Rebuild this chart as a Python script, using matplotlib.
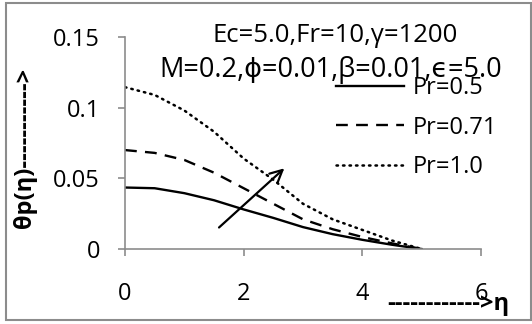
import numpy as np
import matplotlib
matplotlib.use('Agg')
from matplotlib import pyplot as plt
from matplotlib.patches import Rectangle

plt.rcParams['font.family'] = ['Open Sans', 'DejaVu Sans']

W, H = 532, 324
FONTSIZE = 17
FONTSIZE_NOTE = 18.5

eta = [0, 0.5, 1.0, 1.5, 2.0, 2.5, 3.0, 3.5, 4.0, 4.5, 5.0]
pr_05 = [0.0435, 0.043, 0.0395, 0.0345, 0.028, 0.022, 0.0155, 0.0105, 0.0065, 0.003, 0.0]
pr_071 = [0.070, 0.068, 0.063, 0.054, 0.043, 0.032, 0.021, 0.014, 0.0085, 0.004, 0.0]
pr_10 = [0.1145, 0.109, 0.098, 0.083, 0.064, 0.049, 0.032, 0.021, 0.0135, 0.006, 0.0]
labels = ['Pr=0.5', 'Pr=0.71', 'Pr=1.0']
x_ticks = [0, 2, 4, 6]
y_ticks = [0, 0.05, 0.1, 0.15]
y_ticklabels = ['0', '0.05', '0.1', '0.15']

GRAY = '#8c8c8c'


def px(x, y):
    return x / W, 1 - y / H


fig = plt.figure(figsize=(W / 100, H / 100), dpi=100)
ax = fig.add_axes([125 / W, 1 - 249 / H, (481 - 125) / W, (249 - 37) / H])

xs = np.array(eta)
ax.plot(xs, pr_05, color='black', lw=1.7, label=labels[0])
ax.plot(xs, pr_071, color='black', lw=1.7, ls=(0, (5, 3.5)), label=labels[1])
ax.plot(xs, pr_10, color='black', lw=1.8, ls=(0, (0.6, 2.0)), dash_capstyle='round',
        label=labels[2])

ax.annotate('', xy=(2.72, 0.0584), xytext=(1.55, 0.0139),
            arrowprops=dict(arrowstyle='->', lw=1.6, color='black', mutation_scale=22))

ax.set_xlim(0, 6)
ax.set_ylim(0, 0.15)
ax.set_xticks(x_ticks)
ax.set_xticklabels([str(t) for t in x_ticks])
ax.set_yticks(y_ticks)
ax.set_yticklabels(y_ticklabels)
for s in ['top', 'right']:
    ax.spines[s].set_visible(False)
for s in ['left', 'bottom']:
    ax.spines[s].set_color(GRAY)
    ax.spines[s].set_linewidth(1.2)
ax.tick_params(axis='both', colors=GRAY, labelcolor='black', length=5, width=1.2,
               labelsize=FONTSIZE)
ax.tick_params(axis='y', pad=13)
ax.tick_params(axis='x', pad=19)

ax.legend(frameon=False, loc='upper left', bbox_to_anchor=px(336, 76),
          bbox_transform=fig.transFigure, borderpad=0, borderaxespad=0,
          handlelength=2.9, handletextpad=0.35, labelspacing=0.66,
          fontsize=FONTSIZE)

fig.text(*px(335, 42), 'Ec=5.0,Fr=10,γ=1200', ha='center', va='baseline', fontsize=FONTSIZE_NOTE)
fig.text(*px(331, 77), 'M=0.2,ϕ=0.01,β=0.01,ϵ=5.0', ha='center', va='baseline', fontsize=19.5)

fig.text(*px(25, 148), 'θp(η)----------->', rotation=90, ha='center', va='center',
         fontsize=FONTSIZE, fontweight='bold')
fig.text(*px(509, 310), '------------>η', ha='right', va='baseline',
         fontsize=FONTSIZE, fontweight='bold')

fig.patches.append(Rectangle(px(6, 320), (531 - 6) / W, (320 - 3) / H,
                             transform=fig.transFigure, fill=False,
                             edgecolor=GRAY, lw=1.5))

fig.savefig('out.png', dpi=100)
